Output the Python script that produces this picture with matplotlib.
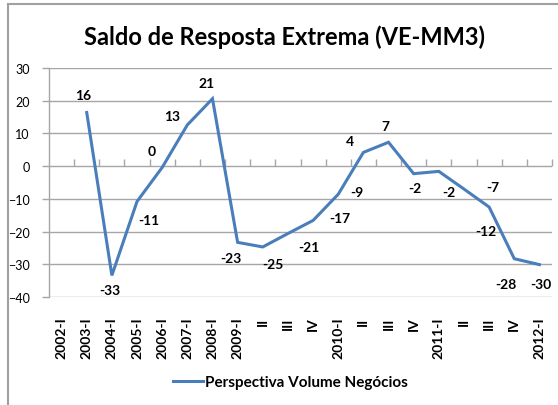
import matplotlib
matplotlib.use("Agg")
import matplotlib.pyplot as plt
from matplotlib.patches import Rectangle
import numpy as np

plt.rcParams['font.family'] = ['Lato', 'DejaVu Sans']

# categories on the x axis
periods = ['2002-I', '2003-I', '2004-I', '2005-I', '2006-I', '2007-I', '2008-I',
           '2009-I', 'II', 'III', 'IV', '2010-I', 'II', 'III', 'IV',
           '2011-I', 'II', 'III', 'IV', '2012-I']
# saldo values (2002-I has no value)
saldo = [np.nan, 16.4, -33.4, -10.8, -0.4, 12.6, 20.6, -23.3, -24.7, -20.6,
         -16.6, -8.6, 4.2, 7.3, -2.3, -1.6, -7.0, -12.5, -28.3, -30.1]
series_name = 'Perspectiva Volume Negócios'
title = 'Saldo de Resposta Extrema (VE-MM3)'

# label offsets (pixels) as placed in the original chart
label_off = [None, (-4, 17), (-2, -15), (12, -19), (-10, 16), (-15, 9), (-6, 16),
             (-7, -16), (10, -17), (21, -13), (27, 2), (19, 2), (-13, 11),
             (-3, 16), (1, -14), (10, -21), (29, 2), (-3, -24), (-8, -25), (1, -19)]

blue = '#4a7ebb'
grid = '#a6a6a6'

fig = plt.figure(figsize=(5.58, 4.06), dpi=100)
ax = fig.add_axes([49 / 558, 1 - 298 / 406, 503 / 558, 229 / 406])

x = np.arange(len(periods))
ax.plot(x, saldo, color=blue, lw=2.2, solid_joinstyle='miter', zorder=3)

for i, v in enumerate(saldo):
    if np.isnan(v):
        continue
    ax.annotate(str(int(round(v))), (x[i], v), xytext=label_off[i],
                textcoords='offset pixels', ha='center', va='center',
                fontsize=10, fontweight='bold', color='black', zorder=4)

ax.set_xlim(-0.5, len(periods) - 0.5)
ax.set_ylim(-40, 30)
ax.set_yticks(range(-40, 31, 10))
ax.yaxis.grid(True, color=grid, lw=1)
ax.set_axisbelow(True)
for s in ['top', 'right', 'bottom']:
    ax.spines[s].set_visible(False)
ax.spines['left'].set_color(grid)
ax.spines['left'].set_linewidth(1)
ax.tick_params(axis='y', direction='out', length=5, width=1, color=grid,
               labelsize=9, pad=9, labelcolor='black')

# category labels at the bottom
ax.set_xticks(x)
ax.set_xticklabels(periods, rotation=90, fontsize=10, fontweight='bold', va='top')
ax.tick_params(axis='x', length=0, pad=14)

# category axis crossing at zero
zero_frac = 40 / 70
sec = ax.secondary_xaxis(zero_frac)
sec.set_xticks(np.arange(0.5, len(periods), 1.0))
sec.tick_params(direction='out', length=5, width=1, color=grid, labelbottom=False,
                labeltop=False)
sec.spines['bottom'].set_color(grid)
sec.spines['bottom'].set_linewidth(1)
sec.spines['top'].set_visible(False)

fig.text(285 / 558, 1 - 37 / 406, title, ha='center', va='center',
         fontsize=17, fontweight='bold')

# legend below the axes
leg = fig.legend([plt.Line2D([], [], color=blue, lw=2.2)], [series_name],
                 loc='center', bbox_to_anchor=(290 / 558, 1 - 383 / 406),
                 frameon=False, prop={'size': 11, 'weight': 'bold'},
                 handlelength=2.0, handletextpad=0.1)

# chart frame
fig.patches.append(Rectangle((8 / 558, -0.1), 1.2, 0.1 + 1 - 5 / 406,
                             transform=fig.transFigure, fill=False,
                             edgecolor='#a0a0a0', lw=1.5))

fig.savefig('out.png', dpi=100)
